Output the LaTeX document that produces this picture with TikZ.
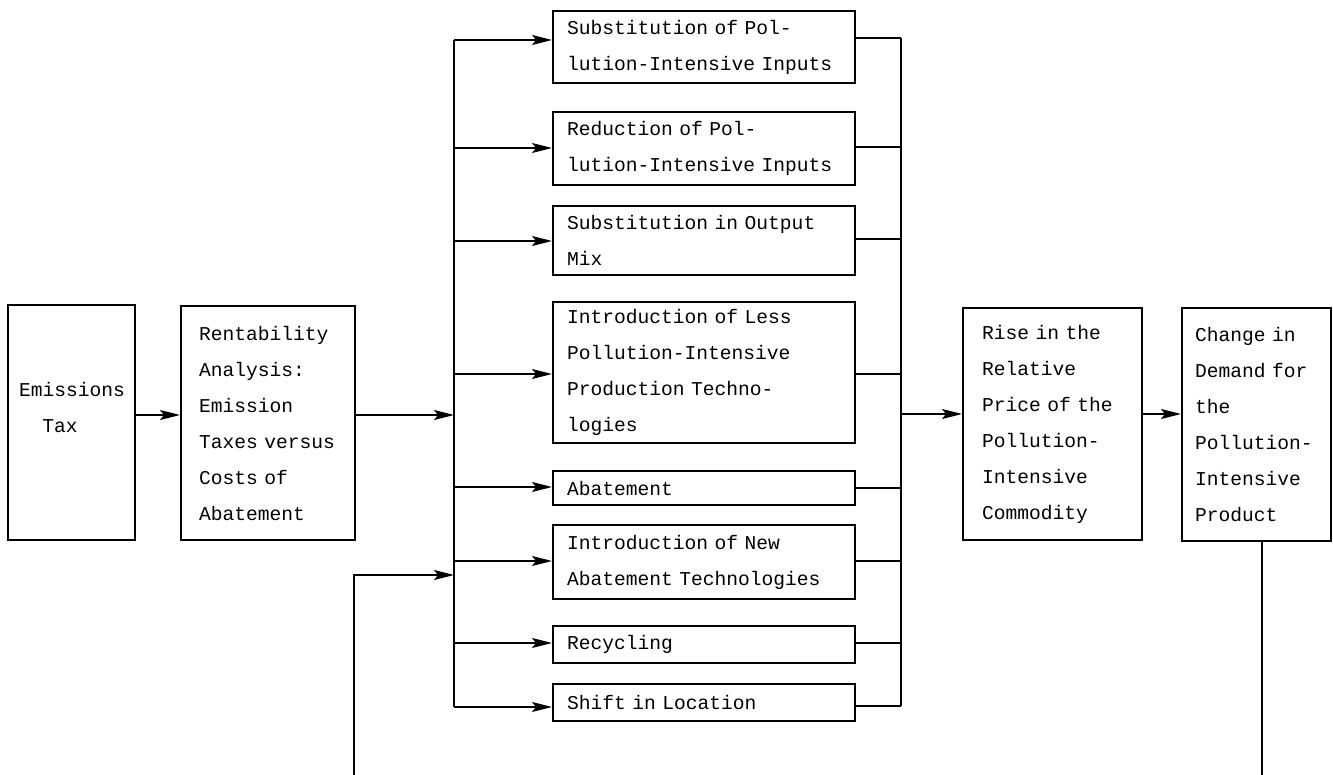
\documentclass[tikz,border=0pt]{standalone}
\usepackage{fontspec}
\newfontfamily\tw{Liberation Mono}
\usetikzlibrary{arrows.meta}
\tikzset{
  box/.style={draw, line width=1pt, rectangle, align=left,
    font=\tw\fontsize{9.8}{18}\selectfont, inner ysep=2pt,
    execute at begin node={\hyphenpenalty=10000 \exhyphenpenalty=10000 }},
  midbox/.style={box, minimum width=151pt, text width=137pt, inner xsep=7pt},
  conn/.style={line width=0.9pt},
  arr/.style={conn, -{Stealth[length=10pt,width=5pt,inset=2pt]}},
}
\begin{document}
\begin{tikzpicture}[x=0.5pt,y=-0.5pt]
\useasboundingbox (0,0) rectangle (1333,775);

% boxes
\node[box, minimum width=63.5pt, minimum height=117.5pt, text width=52.5pt, inner xsep=5.5pt] (emis) at (71.5,422.5)
  {Emissions\\\hspace*{11.7pt}Tax\\[-3pt]\mbox{}};
\node[box, minimum width=87pt, minimum height=117pt, text width=69pt, inner xsep=9pt] (rent) at (268,423)
  {Rentability\\Analysis:\\Emission\\Taxes~versus\\Costs~of\\Abatement};

\node[midbox, minimum height=36pt] (m1) at (704,47)
  {Substitution~of~Pol-\\lution-Intensive~Inputs};
\node[midbox, minimum height=36.5pt] (m2) at (704,148.5)
  {Reduction~of~Pol-\\lution-Intensive~Inputs};
\node[midbox, minimum height=34.5pt] (m3) at (704,240.5)
  {Substitution~in~Output\\Mix};
\node[midbox, minimum height=70.5pt] (m4) at (704,372.5)
  {Introduction~of~Less\\Pollution-Intensive\\Production~Techno-\\logies};
\node[midbox, minimum height=17pt] (m5) at (704,488)
  {Abatement};
\node[midbox, minimum height=37pt] (m6) at (704,562)
  {Introduction~of~New\\Abatement~Technologies};
\node[midbox, minimum height=18.5pt] (m7) at (704,644.5)
  {Recycling};
\node[midbox, minimum height=18.5pt] (m8) at (704,702.5)
  {Shift~in~Location};

\node[box, minimum width=89.5pt, minimum height=116pt, text width=70.5pt, inner xsep=9.5pt] (rise) at (1052.5,424)
  {Rise~in~the\\Relative\\Price~of~the\\Pollution-\\Intensive\\Commodity};
\node[box, minimum width=74.5pt, minimum height=116.5pt, text width=61.5pt, inner xsep=6.5pt] (chg) at (1256.5,424.5)
  {Change~in\\Demand~for\\the\\Pollution-\\Intensive\\Product};

% bus coordinates
\coordinate (busL) at (454,0);
\coordinate (busR) at (901,0);
\coordinate (fbL) at (354,775);
\coordinate (fbR) at (1262,775);

% main flow
\draw[arr] (emis.east |- 0,415) -- (rent.west |- 0,415);
\draw[arr] (rent.east |- 0,415) -- (busL |- 0,415);
\draw[arr] (busR |- 0,414) -- (rise.west |- 0,414);
\draw[arr] (rise.east |- 0,414) -- (chg.west |- 0,414);

% buses
\draw[conn] (busL |- 0,40) -- (busL |- 0,707);
\draw[conn] (busR |- 0,38) -- (busR |- 0,706);

% branches
\foreach \n/\yl/\yr in {m1/40/38, m2/148/147, m3/241/239, m4/374/374, m5/487/488, m6/561/561, m7/643/643, m8/707/706}{
  \draw[arr] (busL |- 0,\yl) -- (\n.west |- 0,\yl);
  \draw[conn] (\n.east |- 0,\yr) -- (busR |- 0,\yr);
}

% feedback
\draw[conn] (chg.south -| fbR) -- (fbR);
\draw[arr] (fbL) -- (fbL |- 0,575) -- (busL |- 0,575);
\end{tikzpicture}
\end{document}
